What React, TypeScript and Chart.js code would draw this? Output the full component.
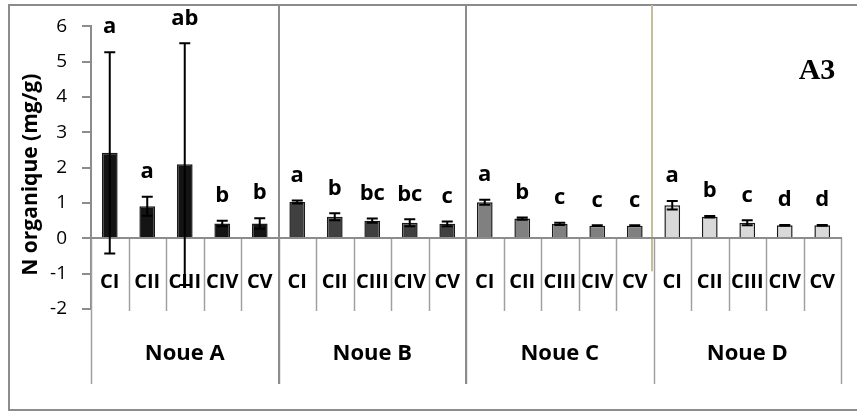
import React, { useEffect, useRef } from "react";
import { Chart, registerables } from "chart.js";

Chart.register(...registerables);

const groups = ["Noue A", "Noue B", "Noue C", "Noue D"];
const stages = ["CI", "CII", "CIII", "CIV", "CV"];

const noueA = [2.42, 0.91, 2.1, 0.42, 0.42];
const noueB = [1.03, 0.61, 0.5, 0.44, 0.41];
const noueC = [1.02, 0.56, 0.41, 0.36, 0.36];
const noueD = [0.94, 0.61, 0.44, 0.37, 0.37];

const errA = [2.85, 0.27, 3.42, 0.08, 0.15];
const errB = [0.04, 0.1, 0.06, 0.1, 0.07];
const errC = [0.07, 0.03, 0.03, 0.01, 0.01];
const errD = [0.12, 0.02, 0.07, 0.01, 0.01];

const lettersA = ["a", "a", "ab", "b", "b"];
const lettersB = ["a", "b", "bc", "bc", "c"];
const lettersC = ["a", "b", "c", "c", "c"];
const lettersD = ["a", "b", "c", "d", "d"];

const groupColors = ["#141414", "#404040", "#808080", "#d9d9d9"];

const yMin = -2;
const yMax = 6;
const yTitle = "N organique (mg/g)";
const panelTag = "A3";

const values = [...noueA, ...noueB, ...noueC, ...noueD];
const errors = [...errA, ...errB, ...errC, ...errD];
const letters = [...lettersA, ...lettersB, ...lettersC, ...lettersD];
const labels = groups.flatMap(() => stages);
const barColors = groups.flatMap((_, g) => stages.map(() => groupColors[g]));

const FONT = "'Open Sans', sans-serif";
const GRAY = "#8c8c8c";

const decorPlugin = {
  id: "decor",
  beforeDraw(chart: any) {
    const { ctx, width, height } = chart;
    ctx.save();
    ctx.fillStyle = "#fff";
    ctx.fillRect(0, 0, width, height);
    ctx.strokeStyle = GRAY;
    ctx.lineWidth = 2;
    ctx.strokeRect(9, 5, width + 10, 405);
    ctx.restore();
  },
  beforeDatasetsDraw(chart: any) {
    const { ctx, chartArea } = chart;
    const xs = chart.scales.x;
    const ys = chart.scales.y;
    const y0 = ys.getPixelForValue(0);
    const yBottom = chartArea.bottom;
    const groupBottom = chartArea.bottom + 75;
    const n = labels.length;
    const step = (chartArea.right - chartArea.left) / n;
    ctx.save();
    ctx.strokeStyle = "#a0a0a0";
    ctx.lineWidth = 1.5;
    for (let i = 0; i <= n; i++) {
      const x = Math.round(xs.getPixelForValue(i) - step / 2) + 0.5;
      const isGroup = i % stages.length === 0;
      ctx.beginPath();
      ctx.moveTo(x, y0);
      ctx.lineTo(x, isGroup ? groupBottom : yBottom + 2);
      ctx.stroke();
    }
    ctx.strokeStyle = GRAY;
    ctx.lineWidth = 2;
    for (const g of [1, 2]) {
      const x = Math.round(xs.getPixelForValue(g * stages.length) - step / 2);
      ctx.beginPath();
      ctx.moveTo(x, 5);
      ctx.lineTo(x, groupBottom);
      ctx.stroke();
    }
    {
      const x = Math.round(xs.getPixelForValue(3 * stages.length) - step / 2) - 2;
      ctx.strokeStyle = "#c8bf98";
      ctx.beginPath();
      ctx.moveTo(x, 5);
      ctx.lineTo(x, y0 + 33);
      ctx.stroke();
    }
    ctx.restore();
  },
  afterDatasetsDraw(chart: any) {
    const { ctx, chartArea } = chart;
    const xs = chart.scales.x;
    const ys = chart.scales.y;
    const y0 = ys.getPixelForValue(0);
    const n = labels.length;
    ctx.save();
    ctx.strokeStyle = GRAY;
    ctx.lineWidth = 2;
    ctx.beginPath();
    ctx.moveTo(chartArea.left, Math.round(y0));
    ctx.lineTo(chartArea.right + 1, Math.round(y0));
    ctx.stroke();
    ctx.strokeStyle = "#000";
    ctx.lineWidth = 2;
    const cap = 5.5;
    for (let i = 0; i < n; i++) {
      const x = xs.getPixelForValue(i);
      const yt = ys.getPixelForValue(values[i] + errors[i]);
      const yb = ys.getPixelForValue(values[i] - errors[i]);
      ctx.beginPath();
      ctx.moveTo(x, yt);
      ctx.lineTo(x, yb);
      ctx.moveTo(x - cap, yt);
      ctx.lineTo(x + cap, yt);
      ctx.moveTo(x - cap, yb);
      ctx.lineTo(x + cap, yb);
      ctx.stroke();
    }
    ctx.fillStyle = "#000";
    ctx.textAlign = "center";
    ctx.textBaseline = "middle";
    ctx.font = `bold 22px ${FONT}`;
    for (let i = 0; i < n; i++) {
      const x = xs.getPixelForValue(i);
      const yt = ys.getPixelForValue(values[i] + errors[i]);
      ctx.fillText(letters[i], x, yt - 25);
    }
    ctx.font = `bold 20px ${FONT}`;
    const yCat = ys.getPixelForValue(-1.25);
    for (let i = 0; i < n; i++) {
      ctx.fillText(labels[i], xs.getPixelForValue(i), yCat);
    }
    ctx.font = `bold 22px ${FONT}`;
    groups.forEach((g, gi) => {
      const a = xs.getPixelForValue(gi * stages.length);
      const b = xs.getPixelForValue(gi * stages.length + stages.length - 1);
      ctx.fillText(g, (a + b) / 2, chartArea.bottom + 45);
    });
    ctx.save();
    ctx.translate(31, (chartArea.top + chartArea.bottom) / 2 + 7);
    ctx.rotate(-Math.PI / 2);
    ctx.font = `bold 21px ${FONT}`;
    ctx.fillText(yTitle, 0, 0);
    ctx.restore();
    ctx.font = "bold 30px 'Liberation Serif', serif";
    ctx.fillText(panelTag, 817, 71);
    ctx.restore();
  },
};

export default function App() {
  const ref = useRef<HTMLCanvasElement | null>(null);
  useEffect(() => {
    document.body.style.margin = "0";
    const canvas = ref.current;
    if (!canvas) return;
    const chart = new Chart(canvas, {
      type: "bar",
      data: {
        labels,
        datasets: [
          {
            data: values,
            backgroundColor: barColors,
            borderColor: "#1a1a1a",
            borderWidth: 1.5,
            barPercentage: 0.42,
            categoryPercentage: 1,
          },
        ],
      },
      options: {
        responsive: false,
        animation: false,
        devicePixelRatio: 1,
        layout: { padding: { left: 8, top: 26, right: 16, bottom: 103 } },
        plugins: { legend: { display: false }, tooltip: { enabled: false } },
        scales: {
          x: { type: "category", display: false, offset: true },
          y: {
            min: yMin,
            max: yMax,
            ticks: {
              stepSize: 1,
              padding: 15,
              color: "#000",
              font: { family: FONT, size: 19 },
            },
            grid: {
              drawOnChartArea: false,
              drawTicks: true,
              tickLength: 9,
              color: GRAY,
              lineWidth: 2,
            },
            border: { display: true, color: GRAY, width: 2 },
            afterFit: (s: any) => {
              s.width = 83;
            },
          },
        },
      },
      plugins: [decorPlugin],
    });
    return () => chart.destroy();
  }, []);
  return (
    <div style={{ width: 857, height: 412 }}>
      <canvas ref={ref} width={857} height={412} style={{ display: "block" }} />
    </div>
  );
}
